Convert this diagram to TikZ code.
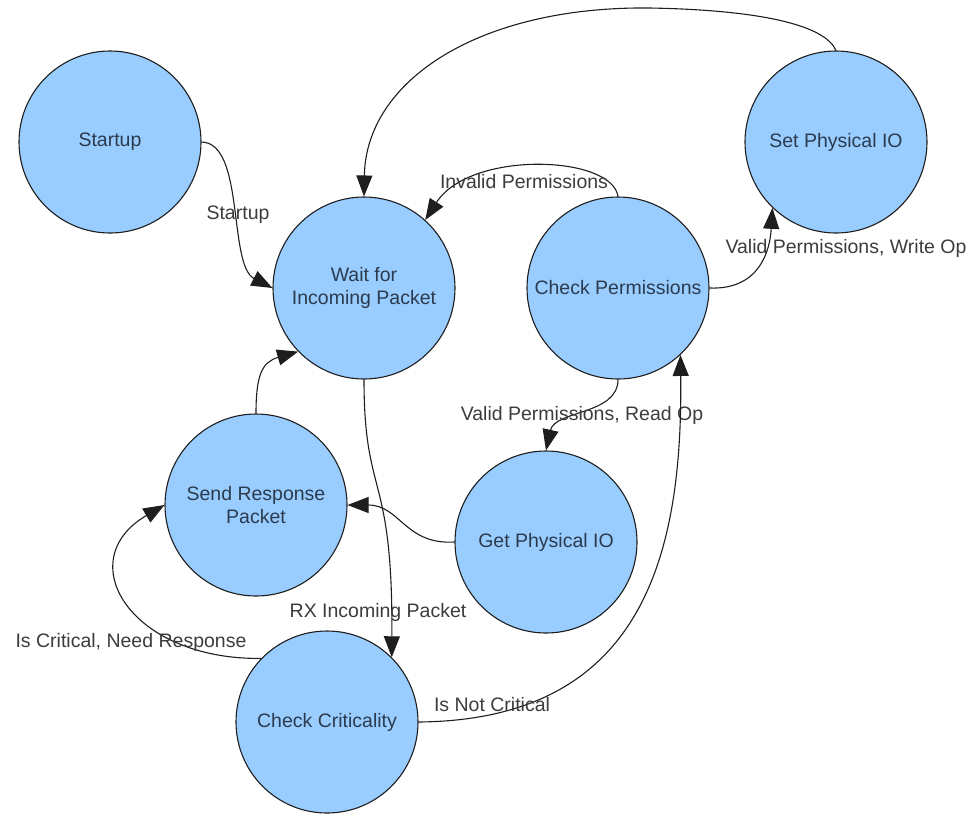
\documentclass[tikz,border=0pt]{standalone}
\usepackage{fontspec}
\setmainfont{Liberation Sans}
\usetikzlibrary{arrows.meta}
\definecolor{statefill}{HTML}{99CCFF}
\definecolor{statetext}{HTML}{2B3B4F}
\definecolor{labeltext}{HTML}{3C3C3C}
\definecolor{linecol}{HTML}{1E1E1E}
\tikzset{
  state/.style={circle, draw=linecol, line width=1.1pt, fill=statefill, minimum size=182pt, inner sep=0pt,
    text=statetext, align=center, font=\fontsize{19.5}{23}\selectfont},
  trans/.style={draw=linecol, line width=1.1pt, -{Triangle[length=21pt,width=16pt]}},
  elabel/.style={text=labeltext, font=\fontsize{19.5}{23}\selectfont, inner sep=0pt}
}
\begin{document}
\begin{tikzpicture}[x=1pt,y=-1pt]
\useasboundingbox (0,0) rectangle (972,815);
\node[state] (st) at (110,142) {Startup};
\node[state] (w)  at (364,288) {Wait for\\Incoming Packet};
\node[state] (cp) at (618,288) {Check Permissions};
\node[state] (sio) at (836,142) {Set Physical IO};
\node[state] (sr) at (256,505) {Send Response\\Packet};
\node[state] (gp) at (546,542) {Get Physical IO};
\node[state] (cc) at (327,722) {Check Criticality};

% Startup -> Wait
\draw[trans] (st.east) .. controls (245,143) and (228,265) .. (w.west);
\node[elabel] (l1) at (238,215) {Startup};

% Set Physical IO -> Wait
\coordinate (top) at (650,8);
\draw[trans] (sio.north) .. controls (825,25) and (760,10) .. (top) .. controls (480,6) and (366,80) .. (w.north);

% Check Permissions -> Wait (Invalid)
\draw[trans] (cp.north) .. controls (612,155) and (470,150) .. (w.48);
\node[elabel] (l2) at (524,182) {Invalid Permissions};

% Check Permissions -> Set Physical IO
\draw[trans] (cp.east) .. controls (760,290) and (770,250) .. (sio.226);
\node[elabel] (l3) at (846,248) {Valid Permissions, Write Op};

% Check Permissions -> Get Physical IO
\draw[trans] (cp.south) .. controls (618,415) and (555,410) .. (gp.north);
\node[elabel] (l4) at (582,415) {Valid Permissions, Read Op};

% Get Physical IO -> Send Response
\draw[trans] (gp.west) .. controls (405,545) and (400,505) .. (sr.east);

% Send Response -> Wait
\draw[trans] (sr.north) .. controls (256,375) and (262,362) .. (w.224);

% Wait -> Check Criticality
\draw[trans] (w.south) .. controls (364,500) and (393,470) .. (cc.45);
\node[elabel] (l5) at (378,612) {RX Incoming Packet};

% Check Criticality -> Send Response
\draw[trans] (cc.136) .. controls (130,660) and (70,560) .. (sr.west);
\node[elabel] (l6) at (131,642) {Is Critical, Need Response};

% Check Criticality -> Check Permissions
\draw[trans] (cc.east) .. controls (640,720) and (683,560) .. (cp.313);
\node[elabel] (l7) at (492,705) {Is Not Critical};
\end{tikzpicture}
\end{document}
